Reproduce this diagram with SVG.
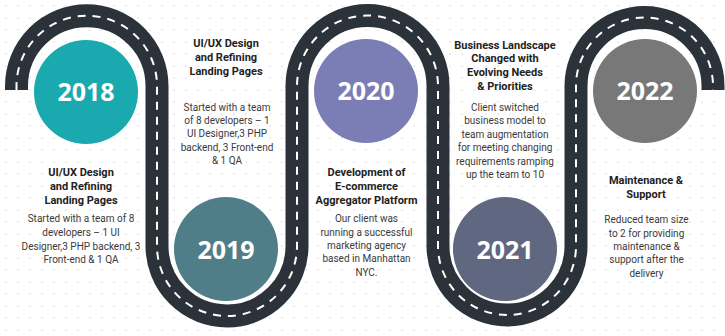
<svg xmlns="http://www.w3.org/2000/svg" width="725" height="336" viewBox="0 0 725 336">
<defs>
<pattern id="dots" width="12" height="12" patternUnits="userSpaceOnUse">
<circle cx="6" cy="6" r="0.9" fill="#e6e6e6"/>
</pattern>
<style>
.road{fill:none;stroke:#2c323a;stroke-width:23;stroke-linecap:butt}
.lane{fill:none;stroke:#ffffff;stroke-width:2;stroke-dasharray:8 7}
.year{font-family:"Open Sans","DejaVu Sans",sans-serif;font-weight:700;font-size:25px;fill:#ffffff;text-anchor:middle}
.title{font-family:Roboto,"Liberation Sans",sans-serif;font-weight:700;font-size:11px;fill:#222222;text-anchor:middle}
.body{font-family:Roboto,"Liberation Sans",sans-serif;font-size:10px;fill:#3a3a3a;text-anchor:middle}
</style>
</defs>
<rect width="725" height="336" fill="#ffffff"/>
<rect width="725" height="336" fill="url(#dots)"/>
<g id="connectors">
<path class="road" d="M16.5,90 V86 A70.25,70.25 0 0 1 157,86 V246 A70,70 0 0 0 297,246 V86 A70.5,70.5 0 0 1 438,86 V246 A69,69 0 0 0 576,246 V86 A68.5,68.5 0 0 1 713,86 V90"/>
<path class="lane" d="M16.5,90 V86 A70.25,70.25 0 0 1 157,86 V246 A70,70 0 0 0 297,246 V86 A70.5,70.5 0 0 1 438,86 V246 A69,69 0 0 0 576,246 V86 A68.5,68.5 0 0 1 713,86 V90"/>
</g>
<g id="node-2018">
<circle cx="86" cy="92" r="52" fill="#1aa9ae"/>
<text class="year" x="86" y="101">2018</text>
<text class="title" x="81" y="176">UI/UX Design</text>
<text class="title" x="81" y="190">and Refining</text>
<text class="title" x="81" y="204">Landing Pages</text>
<text class="body" x="81" y="222">Started with a team of 8</text>
<text class="body" x="81" y="236">developers – 1 UI</text>
<text class="body" x="81" y="250">Designer,3 PHP backend, 3</text>
<text class="body" x="81" y="263">Front-end &amp; 1 QA</text>
</g>
<g id="node-2019">
<circle cx="226" cy="249" r="52" fill="#4f7e89"/>
<text class="year" x="226" y="259">2019</text>
<text class="title" x="226" y="47">UI/UX Design</text>
<text class="title" x="226" y="61">and Refining</text>
<text class="title" x="226" y="75">Landing Pages</text>
<text class="body" x="227" y="111">Started with a team</text>
<text class="body" x="227" y="124">of 8 developers – 1</text>
<text class="body" x="227" y="137">UI Designer,3 PHP</text>
<text class="body" x="227" y="151">backend, 3 Front-end</text>
<text class="body" x="227" y="164">&amp; 1 QA</text>
</g>
<g id="node-2020">
<circle cx="366" cy="91" r="52" fill="#7b7db5"/>
<text class="year" x="366" y="100">2020</text>
<text class="title" x="366.5" y="176">Development of</text>
<text class="title" x="366.5" y="190">E-commerce</text>
<text class="title" x="366.5" y="204">Aggregator Platform</text>
<text class="body" x="366.5" y="222">Our client was</text>
<text class="body" x="366.5" y="236">running a successful</text>
<text class="body" x="366.5" y="249">marketing agency</text>
<text class="body" x="366.5" y="262">based in Manhattan</text>
<text class="body" x="366.5" y="276">NYC.</text>
</g>
<g id="node-2021">
<circle cx="505" cy="249" r="52" fill="#606781"/>
<text class="year" x="505" y="259">2021</text>
<text class="title" x="505" y="49">Business Landscape</text>
<text class="title" x="505" y="62">Changed with</text>
<text class="title" x="505" y="76">Evolving Needs</text>
<text class="title" x="505" y="90">&amp; Priorities</text>
<text class="body" x="505" y="111">Client switched</text>
<text class="body" x="505" y="124">business model to</text>
<text class="body" x="505" y="138">team augmentation</text>
<text class="body" x="505" y="151">for meeting changing</text>
<text class="body" x="505" y="165">requirements ramping</text>
<text class="body" x="505" y="178">up the team to 10</text>
</g>
<g id="node-2022">
<circle cx="645" cy="91" r="52" fill="#787878"/>
<text class="year" x="645" y="100">2022</text>
<text class="title" x="646" y="184">Maintenance &amp;</text>
<text class="title" x="646" y="198">Support</text>
<text class="body" x="646.5" y="223">Reduced team size</text>
<text class="body" x="646.5" y="237">to 2 for providing</text>
<text class="body" x="646.5" y="250">maintenance &amp;</text>
<text class="body" x="646.5" y="263">support after the</text>
<text class="body" x="646.5" y="277">delivery</text>
</g>
</svg>
